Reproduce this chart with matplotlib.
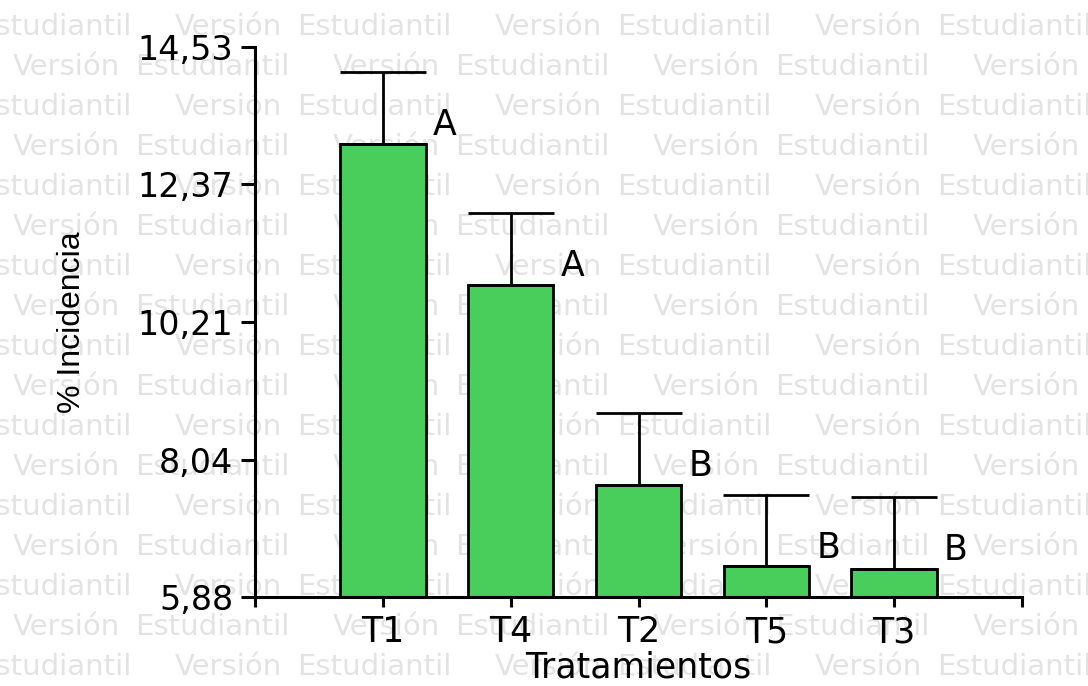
import matplotlib
matplotlib.use("Agg")
import matplotlib.pyplot as plt
import numpy as np
from matplotlib import font_manager
from matplotlib.font_manager import FontProperties

# Treatment means (% incidence), upper standard errors and Tukey groups
treatments = ["T1", "T4", "T2", "T5", "T3"]
means = [13.00, 10.79, 7.64, 6.36, 6.32]
errors = [1.13, 1.13, 1.14, 1.12, 1.13]
groups = ["A", "A", "B", "B", "B"]

y_ticks = [5.88, 8.04, 10.21, 12.37, 14.53]
y_tick_labels = ["5,88", "8,04", "10,21", "12,37", "14,53"]

BAR_COLOR = "#49CE5B"
WM_COLOR = "#e3e3e3"
MAIN_FONT = "DejaVu Sans"


def first_available(families):
    for fam in families:
        try:
            font_manager.findfont(FontProperties(family=fam), fallback_to_default=False)
            return fam
        except ValueError:
            continue
    return "DejaVu Sans"


W, H = 1088, 686
fig = plt.figure(figsize=(W / 100, H / 100), dpi=100)
fig.patch.set_facecolor("white")
ax = fig.add_axes([255 / W, 1 - 597 / H, 767 / W, 550 / H])
ax.patch.set_visible(False)

# Tiled "student version" watermark behind the plot
for i in range(17):
    baseline = 35 + 40 * i
    x = -145 if i % 2 == 0 else 13
    while x < W:
        for word, dx in (("Versión", 0), ("Estudiantil", 122)):
            fig.text((x + dx) / W, 1 - baseline / H, word, fontsize=21,
                     color=WM_COLOR, family="DejaVu Sans", ha="left",
                     va="baseline", zorder=-5)
        x += 320

positions = np.arange(1, len(treatments) + 1)

ax.bar(positions, means, width=0.67, color=BAR_COLOR, edgecolor="black",
       linewidth=2.0, zorder=2)
ax.errorbar(positions, means, yerr=[np.zeros(len(errors)), errors], fmt="none",
            ecolor="black", elinewidth=2.0, capsize=31.3, capthick=2.0, zorder=3)

for p, m, g in zip(positions, means, groups):
    ax.text(p + 0.39, m + 0.14, g, ha="left", va="baseline", fontsize=25,
            family=MAIN_FONT, color="black", zorder=4)

ax.set_xlim(0, len(treatments) + 1)
ax.set_ylim(y_ticks[0], y_ticks[-1])
ax.set_xticks(np.arange(0, len(treatments) + 2))
ax.set_xticklabels([""] + treatments + [""], family=MAIN_FONT)
ax.set_yticks(y_ticks)
ax.set_yticklabels(y_tick_labels, family=MAIN_FONT)

for side in ("top", "right"):
    ax.spines[side].set_visible(False)
for side in ("left", "bottom"):
    ax.spines[side].set_linewidth(2.2)
    ax.spines[side].set_zorder(5)

ax.tick_params(axis="y", length=10, width=2.2, pad=5.8, labelsize=24,
               colors="black")
ax.tick_params(axis="x", length=7.2, width=2.2, pad=6, labelsize=25,
               colors="black")

ax.set_xlabel("Tratamientos", fontsize=25, family=MAIN_FONT, va="top")
ax.xaxis.set_label_coords(0.5, (597 - 650) / 550)

narrow = first_available(["Liberation Sans Narrow", "Liberation Sans"])
ylabel_size = 28 if narrow == "Liberation Sans Narrow" else 23
ax.set_ylabel("% Incidencia", fontsize=ylabel_size, family=narrow, va="center")
ax.yaxis.set_label_coords((72 - 255) / 767, 0.5)

fig.savefig("out.png", dpi=100, facecolor="white")
